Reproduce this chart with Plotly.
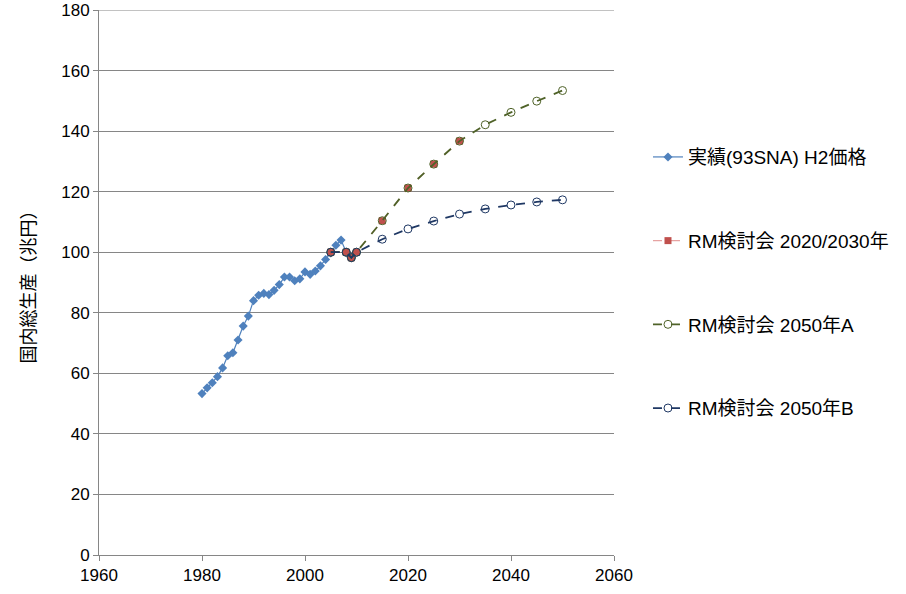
import plotly.graph_objects as go

hist_years = list(range(1980, 2010))
hist_vals = [53.3, 55.2, 56.9, 58.9, 61.8, 65.8, 66.8, 71.0, 75.6, 78.9,
             84.0, 85.8, 86.4, 86.0, 87.4, 89.3, 91.8, 91.8, 90.6, 91.2,
             93.5, 92.7, 93.8, 95.5, 97.6, 99.8, 102.3, 104.0, 100.0, 98.2]

rm_years = [2005, 2008, 2009, 2010, 2015, 2020, 2025, 2030]
rm_vals = [100.0, 100.0, 98.2, 100.0, 110.4, 121.2, 129.1, 136.7]

a_years = [2005, 2008, 2009, 2010, 2015, 2020, 2025, 2030, 2035, 2040, 2045, 2050]
a_vals = [100.0, 100.0, 98.2, 100.0, 110.4, 121.2, 129.1, 136.7, 142.1, 146.2, 149.9, 153.4]

b_years = [2005, 2008, 2009, 2010, 2015, 2020, 2025, 2030, 2035, 2040, 2045, 2050]
b_vals = [100.0, 100.0, 98.2, 100.0, 104.3, 107.7, 110.3, 112.6, 114.3, 115.6, 116.6, 117.3]

y_max = 180
names = ["実績(93SNA) H2価格", "RM検討会 2020/2030年", "RM検討会 2050年A", "RM検討会 2050年B"]

fig = go.Figure()
fig.add_trace(go.Scatter(x=hist_years, y=hist_vals, name=names[0], mode="lines+markers",
                         line=dict(color="#4F81BD", width=1.2),
                         marker=dict(symbol="diamond", size=7, color="#4F81BD"),
                         legendgroup="g1"))
fig.add_trace(go.Scatter(x=rm_years, y=rm_vals, name=names[1], mode="lines+markers",
                         line=dict(color="#E6A3A2", width=1.2, dash="dash"),
                         marker=dict(symbol="square", size=7, color="#C0504D"),
                         legendgroup="g2"))
fig.add_trace(go.Scatter(x=a_years, y=a_vals, name=names[2], mode="lines+markers",
                         line=dict(color="#4F6228", width=1.8, dash="dash"),
                         marker=dict(symbol="circle-open", size=8, color="#4F6228", line=dict(width=1)),
                         legendgroup="g3"))
fig.add_trace(go.Scatter(x=b_years, y=b_vals, name=names[3], mode="lines+markers",
                         line=dict(color="#1F3864", width=1.8, dash="dash"),
                         marker=dict(symbol="circle-open", size=8, color="#1F3864", line=dict(width=1)),
                         legendgroup="g4"))

# top gridline
fig.add_shape(type="line", xref="paper", yref="y", x0=0, x1=1, y0=y_max, y1=y_max,
              line=dict(color="#868686", width=1), layer="below")

font = "Liberation Sans, Arial, Noto Sans CJK JP, sans-serif"
fig.update_layout(
    width=906, height=594,
    margin=dict(l=99, r=292, t=10, b=39),
    paper_bgcolor="white", plot_bgcolor="white",
    font=dict(family=font, size=17, color="black"),
    showlegend=True,
    legend=dict(x=1.066, y=0.765, xanchor="left", yanchor="top",
                font=dict(size=19), tracegroupgap=56, itemwidth=30,
                bgcolor="rgba(0,0,0,0)"),
    xaxis=dict(range=[1960, 2060], tickmode="array", tickvals=[1960, 1980, 2000, 2020, 2040, 2060],
               showgrid=False, showline=True, linecolor="#868686", linewidth=1,
               ticks="outside", ticklen=5, tickcolor="#868686", zeroline=False,
               tickfont=dict(size=17), automargin=False, ticklabeloverflow="allow"),
    yaxis=dict(range=[0, y_max], tickmode="array", tickvals=list(range(0, y_max + 1, 20)),
               showgrid=True, gridcolor="#868686", gridwidth=1,
               showline=True, linecolor="#868686", linewidth=1,
               ticks="outside", ticklen=5, tickcolor="#868686", zeroline=False,
               tickfont=dict(size=17), automargin=False, ticklabeloverflow="allow",
               title=dict(text="国内総生産（兆円）", font=dict(size=18), standoff=20)),
)

fig.write_html("out.html", config={"displayModeBar": False},
               post_script="document.body.style.margin='0';")
